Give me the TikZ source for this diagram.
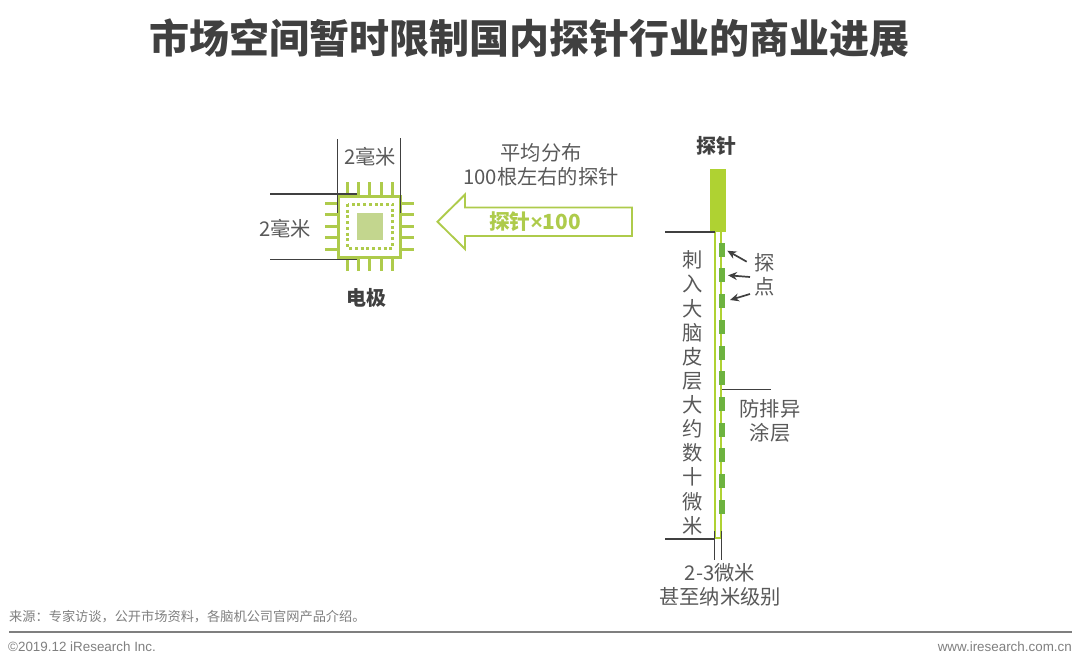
\documentclass[tikz,border=0pt]{standalone}
\usepackage{fontspec}
\setmainfont{Noto Sans CJK SC}
\newfontfamily\latinfont{Liberation Sans}
\definecolor{inkdark}{HTML}{404040}
\definecolor{inkmid}{HTML}{595959}
\definecolor{inkgrey}{HTML}{7F7F7F}
\definecolor{lime}{HTML}{AFD232}
\definecolor{olive}{HTML}{AECB4B}
\definecolor{padgreen}{HTML}{C3D68E}
\definecolor{dotgreen}{HTML}{6DB33F}
\tikzset{
  lbl/.style={inner sep=0pt,text=inkmid,font=\fontsize{20.3}{24}\selectfont,align=center},
  boldlbl/.style={inner sep=0pt,text=inkdark,font=\fontsize{20}{24}\selectfont\bfseries},
  dimline/.style={draw=inkdark,line width=1.3pt},
  pin/.style={draw=olive,line width=3pt},
  pointer/.style={draw=inkdark,line width=1.7pt,-{Stealth[length=9pt,width=8pt]}},
  shaftline/.style={draw=lime,line width=1.5pt},
  contact/.style={fill=dotgreen,draw=none,inner sep=0pt,minimum width=6.5pt,minimum height=14pt},
}
\usetikzlibrary{arrows.meta}
\begin{document}
\begin{tikzpicture}[x=1pt,y=1pt]
\useasboundingbox (0,0) rectangle (1080,-667);
% title
\node[inner sep=0pt,text=inkdark,font=\fontsize{40}{46}\selectfont\bfseries] (title) at (529.5,-38) {市场空间暂时限制国内探针行业的商业进展};
% chip
\foreach \p/\n in {347/1,358.3/2,369.7/3,381/4,392.3/5}{
  \coordinate (pt\n) at (\p,-182); \coordinate (pb\n) at (\p,-271);
  \draw[pin] (pt\n) -- (pb\n);
}
\foreach \p/\n in {203/1,214.7/2,226/3,237.7/4,249/5}{
  \coordinate (pl\n) at (325,-\p); \coordinate (pr\n) at (414,-\p);
  \draw[pin] (pl\n) -- (pr\n);
}
\fill[white] (338,-196) rectangle (400,-257);
\draw[olive,line width=3pt] (338,-196) rectangle (400,-257);
\draw[olive,line width=3pt,dash pattern=on 3pt off 2.7pt] (347.7,-204) rectangle (392.7,-248);
\fill[padgreen] (356.7,-213) rectangle (383,-240);
% chip dimensions
\coordinate (va) at (337.5,-139); \coordinate (vb) at (337.5,-213);
\coordinate (vc) at (400.5,-138); \coordinate (vd) at (400.5,-213);
\coordinate (ha) at (270,-194); \coordinate (hb) at (357,-194);
\coordinate (hc) at (270,-259.5); \coordinate (hd) at (357,-259.5);
\draw[dimline] (va) -- (vb);
\draw[dimline] (vc) -- (vd);
\draw[dimline] (ha) -- (hb);
\draw[dimline] (hc) -- (hd);
\node[lbl] (dimw) at (370,-157) {2毫米};
\node[lbl] (dimh) at (285,-228.5) {2毫米};
\node[boldlbl] (chiplabel) at (366,-298) {电极};
% big arrow
\draw[draw=olive,fill=white,line width=1.9pt,line join=miter]
  (437.5,-221.7) -- (465,-194.5) -- (465,-207.5) -- (632,-207.5) -- (632,-236) -- (465,-236) -- (465,-249) -- cycle;
\node[inner sep=0pt,text=olive,font=\fontsize{20.8}{24}\selectfont\bfseries] (arrowlabel) at (535,-221.5) {探针{\latinfont×}100};
\node[lbl] (distrib) at (541,-164.5) {平均分布\\100根左右的探针};
% probe
\node[boldlbl] (probelabel) at (716,-146) {探针};
\fill[lime] (710,-169) rectangle (726,-232);
\coordinate (sa) at (715,-232); \coordinate (sb) at (715,-538);
\coordinate (sc) at (721,-538); \coordinate (sd) at (721,-232);
\draw[shaftline] (sa) -- (sb) -- (sc) -- (sd);
\foreach \n/\y in {1/249.7,2/275.4,3/301.1,4/326.8,5/352.5,6/378.2,7/403.9,8/429.6,9/455.3,10/481,11/506.7}{
  \node[contact] (dot\n) at (722.2,-\y) {};
}
% probe dimensions
\coordinate (ma) at (665,-232); \coordinate (mb) at (714.5,-232);
\coordinate (mc) at (665,-539); \coordinate (md) at (714,-539);
\coordinate (me) at (714.3,-531); \coordinate (mf) at (714.3,-560);
\coordinate (mg) at (721.3,-531); \coordinate (mh) at (721.3,-560);
\coordinate (mi) at (722,-389.3); \coordinate (mj) at (771,-389.3);
\draw[dimline] (ma) -- (mb);
\draw[dimline] (mc) -- (md);
\draw[dimline] (me) -- (mf);
\draw[dimline] (mg) -- (mh);
\draw[dimline] (mi) -- (mj);
% vertical label
\foreach \n/\y/\c in {1/260/刺,2/284/入,3/309/大,4/333/脑,5/357/皮,6/381/层,7/405/大,8/429/约,9/453/数,10/477/十,11/502/微,12/526/米}{
  \node[lbl] (v\n) at (692.5,-\y) {\c};
}
% contact labels and pointers
\node[lbl] (tan) at (765,-263) {探};
\node[lbl] (dian) at (765,-286.5) {点};
\coordinate (t1) at (746.7,-261.7); \coordinate (t2) at (750,-277); \coordinate (t3) at (750,-294);
\coordinate (h1) at (727.3,-250.7); \coordinate (h2) at (728,-275.3); \coordinate (h3) at (730,-300);
\draw[pointer] (t1) -- (h1);
\draw[pointer] (t2) -- (h2);
\draw[pointer] (t3) -- (h3);
\node[lbl] (coating) at (770,-420.5) {防排异\\涂层};
\node[lbl] (width) at (720,-584.5) {2-3微米\\甚至纳米级别};
% footer
\node[anchor=west,inner sep=0pt,text=inkgrey,font=\fontsize{13.2}{15}\selectfont] (source) at (9,-617) {来源：专家访谈，公开市场资料，各脑机公司官网产品介绍。};
\coordinate (ra) at (9,-631.7); \coordinate (rb) at (1072,-631.7);
\draw[draw=inkgrey,line width=1.6pt] (ra) -- (rb);
\node[anchor=west,inner sep=0pt,text=inkgrey,font=\latinfont\fontsize{13.4}{15}\selectfont] (copyright) at (8,-646.5) {©2019.12 iResearch Inc.};
\node[anchor=east,inner sep=0pt,text=inkgrey,font=\latinfont\fontsize{13.4}{15}\selectfont] (site) at (1072,-647) {www.iresearch.com.cn};
\end{tikzpicture}
\end{document}
